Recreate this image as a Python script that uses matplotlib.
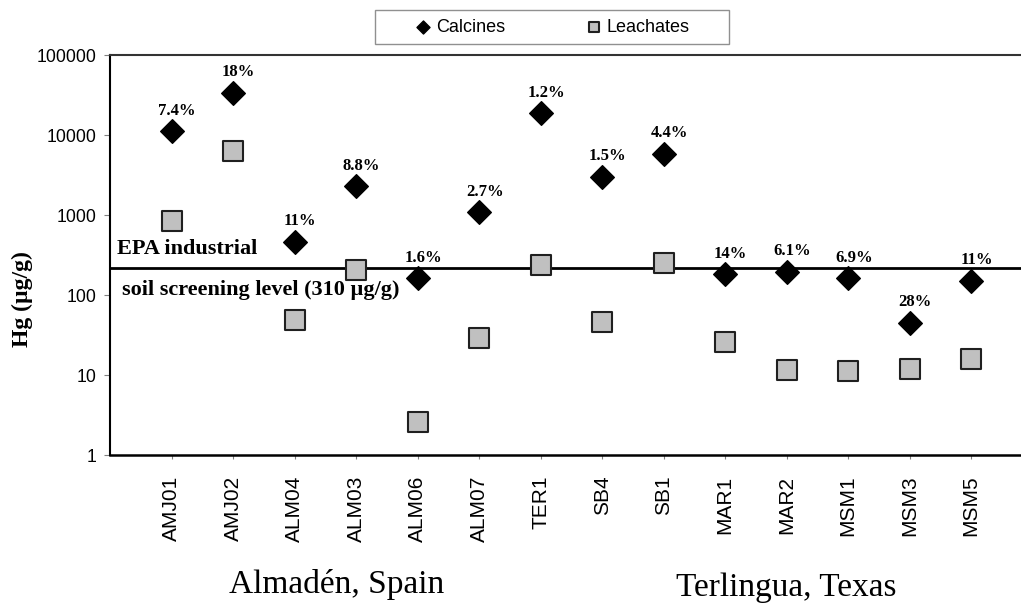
import numpy as np
import matplotlib
matplotlib.use("Agg")
import matplotlib.pyplot as plt
from matplotlib.patches import Rectangle
from matplotlib.ticker import FixedLocator, FixedFormatter, NullLocator

# data
samples = ["AMJ01", "AMJ02", "ALM04", "ALM03", "ALM06", "ALM07", "TER1",
           "SB4", "SB1", "MAR1", "MAR2", "MSM1", "MSM3", "MSM5"]
calcines = [11200, 33500, 460, 2300, 163, 1090, 18800,
            2990, 5790, 183, 194, 163, 44.7, 150]
leachates = [841, 6310, 48.7, 205, 2.59, 29, 237,
             46, 251, 25.9, 11.5, 11.2, 11.8, 15.8]
pct_labels = ["7.4%", "18%", "11%", "8.8%", "1.6%", "2.7%", "1.2%",
              "1.5%", "4.4%", "14%", "6.1%", "6.9%", "28%", "11%"]
epa_level = 215
yticks = [1, 10, 100, 1000, 10000, 100000]
ytick_labels = ["1", "10", "100", "1000", "10000", "100000"]

W, H = 1021, 603
fig = plt.figure(figsize=(W / 100, H / 100), dpi=100)
ax = fig.add_axes([110 / W, (H - 455) / H, (W - 110) / W, 400 / H])

x = np.arange(1, len(samples) + 1)

ax.scatter(x, calcines, marker="D", s=145, color="black", zorder=3,
           label="Calcines")
ax.scatter(x, leachates, marker="s", s=200, facecolor="#c0c0c0",
           edgecolor="#202020", linewidth=1.5, zorder=3, label="Leachates")
ax.axhline(epa_level, color="black", linewidth=2, zorder=2)

for xi, yi, t in zip(x, calcines, pct_labels):
    ax.annotate(t, (xi, yi), xytext=(4, 9), textcoords="offset points",
                ha="center", va="bottom", fontsize=12, fontweight="bold",
                family="Liberation Serif")

ax.text(0.12, epa_level * 1.3, "EPA industrial", fontsize=16,
        fontweight="bold", family="Liberation Serif", va="bottom")
ax.text(0.2, epa_level / 1.4, "soil screening level (310 µg/g)",
        fontsize=16, fontweight="bold", family="Liberation Serif", va="top")

ax.set_yscale("log")
ax.set_ylim(1, 100000)
ax.set_xlim(0, 14.81)
ax.yaxis.set_major_locator(FixedLocator(yticks))
ax.yaxis.set_major_formatter(FixedFormatter(ytick_labels))
ax.yaxis.set_minor_locator(NullLocator())
ax.set_xticks(x)
ax.set_xticklabels(samples, rotation=90, fontsize=15,
                   family="Liberation Sans")
ax.tick_params(axis="x", length=3, color="#808080", pad=12)
ax.tick_params(axis="y", length=4, color="#808080", labelsize=12.7, pad=6)
for lab in ax.get_yticklabels():
    lab.set_family("Liberation Sans")

ax.spines["right"].set_visible(False)
ax.spines["top"].set_color("#333333")
ax.spines["top"].set_linewidth(1.5)
ax.spines["left"].set_linewidth(1.5)
ax.spines["bottom"].set_linewidth(1.8)

fig.text(22 / W, 1 - 299 / H, "Hg (µg/g)", rotation=90, ha="center",
         va="center", fontsize=17, fontweight="bold", family="Liberation Serif")
fig.text(337 / W, 1 - 585 / H, "Almadén, Spain", ha="center", va="center",
         fontsize=24, family="Liberation Serif")
fig.text(786 / W, 1 - 588 / H, "Terlingua, Texas", ha="center", va="center",
         fontsize=24, family="Liberation Serif")

# legend without its own frame, box drawn separately (wider, like the original)
leg = fig.legend(loc="center", bbox_to_anchor=(551 / W, 1 - 27 / H), ncol=2,
                 prop={"family": "Liberation Sans", "size": 13},
                 frameon=False, columnspacing=4.3, handletextpad=0.1,
                 markerscale=0.55, handlelength=1.2, borderaxespad=0)
fig.patches.append(Rectangle((375 / W, 1 - 44 / H), 354 / W, 34 / H,
                             transform=fig.transFigure, facecolor="none",
                             edgecolor="#909090", linewidth=1))

fig.savefig("out.png", dpi=100)
